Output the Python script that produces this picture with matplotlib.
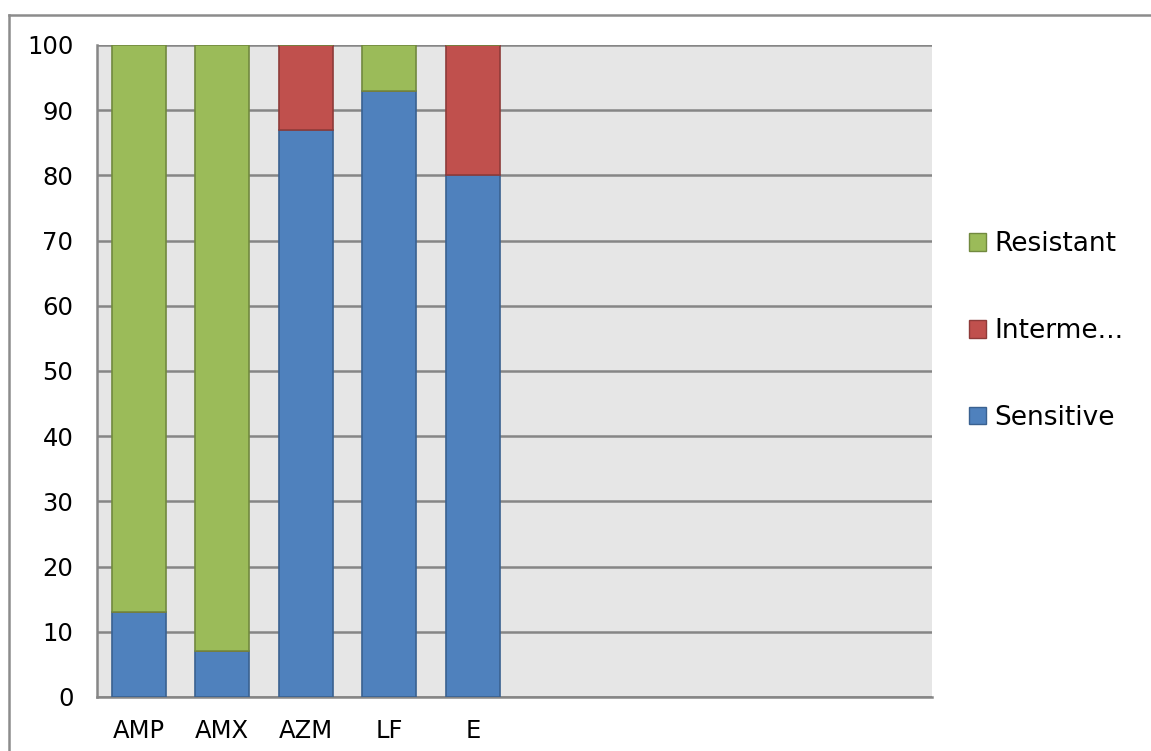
import numpy as np
import matplotlib.pyplot as plt
from matplotlib.patches import Patch
from matplotlib.lines import Line2D

# antibiotic susceptibility (%), 10 category slots, only 5 used
drugs = ['AMP', 'AMX', 'AZM', 'LF', 'E']
n_slots = 10
sensitive = [13, 7, 87, 93, 80]
intermediate = [0, 0, 13, 0, 20]
resistant = [87, 93, 0, 7, 0]

blue, blue_edge = '#4F81BD', '#3A6190'
red, red_edge = '#C0504D', '#8E3B39'
green, green_edge = '#9BBB59', '#71893F'

fig = plt.figure(figsize=(11.51, 7.51), dpi=100)
ax = fig.add_axes([97 / 1151, 54 / 751, 835 / 1151, 652 / 751])

x = np.arange(len(drugs))
w = 0.65
s = np.array(sensitive)
i = np.array(intermediate)
r = np.array(resistant)
ax.bar(x, s, w, color=blue, edgecolor=blue_edge, linewidth=1.2, zorder=3)
ax.bar(x, i, w, bottom=s, color=red, edgecolor=red_edge, linewidth=1.2, zorder=3)
ax.bar(x, r, w, bottom=s + i, color=green, edgecolor=green_edge, linewidth=1.2, zorder=3)

ax.set_facecolor('#E6E6E6')
ax.set_xlim(-0.5, n_slots - 0.5)
ax.set_ylim(0, 100)
ax.set_yticks(range(0, 101, 10))
ax.yaxis.grid(True, color='#868686', linewidth=1.8, zorder=1)
ax.set_axisbelow(True)
ax.set_xticks(x)
ax.set_xticklabels(drugs)
ax.tick_params(axis='both', length=0, labelsize=17.5, colors='black')
ax.tick_params(axis='y', pad=17)
ax.tick_params(axis='x', pad=16)
for side in ['top', 'right']:
    ax.spines[side].set_visible(False)
for side in ['left', 'bottom']:
    ax.spines[side].set_color('#868686')
    ax.spines[side].set_linewidth(1.8)

handles = [Patch(facecolor=green, edgecolor=green_edge),
           Patch(facecolor=red, edgecolor=red_edge),
           Patch(facecolor=blue, edgecolor=blue_edge)]
labels = ['Resistant', 'Interme...', 'Sensitive']
fig.legend(handles, labels, loc='center left', bbox_to_anchor=(956 / 1151, 1 - 331 / 751),
           frameon=False, fontsize=19, handlelength=0.65, handleheight=0.65,
           handletextpad=0.3, labelspacing=2.3, borderpad=0)

# outer chart frame (top and left edges visible)
fig.add_artist(Line2D([9 / 1151, 9 / 1151], [0, 1 - 15 / 751], transform=fig.transFigure,
                      color='#8C8C8C', linewidth=1.8))
fig.add_artist(Line2D([9 / 1151, 1], [1 - 15 / 751, 1 - 15 / 751], transform=fig.transFigure,
                      color='#8C8C8C', linewidth=1.8))

fig.savefig('out.png', dpi=100)
